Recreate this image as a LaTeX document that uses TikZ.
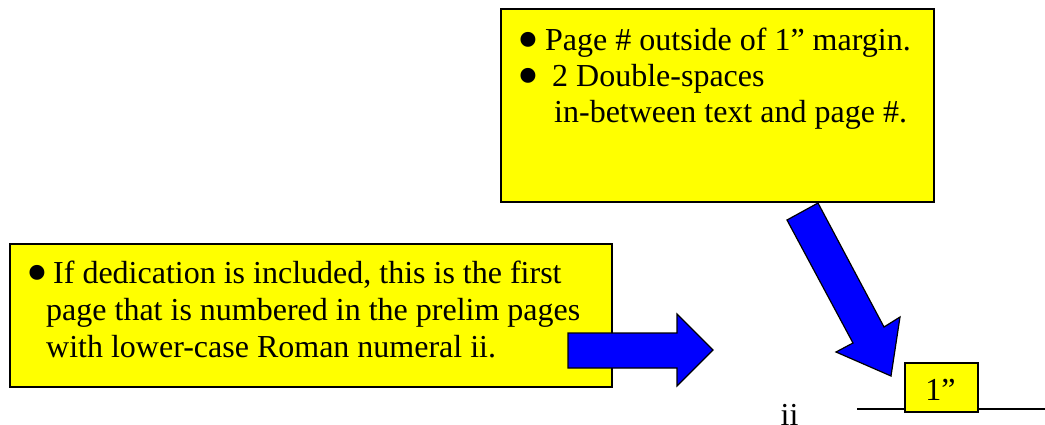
\documentclass[tikz,border=0pt]{standalone}
\usepackage{fontspec}
\setmainfont{Liberation Serif}
\definecolor{noteyellow}{RGB}{255,255,0}
\definecolor{arrowblue}{RGB}{0,0,255}
\newcommand\bulletmark{\makebox[0pt]{\smash{\raisebox{-10.5pt}{\scalebox{1.95}{•}}}}}
\begin{document}
\begin{tikzpicture}[x=1pt,y=-1pt,
  box/.style={draw=black, line width=1.6pt, fill=noteyellow, inner sep=0pt, anchor=north west},
  blockarrow/.style={draw=black, line width=1.2pt, fill=arrowblue, line join=miter},
  txt/.style={inner sep=0pt, anchor=base west, font=\fontsize{32}{36}\selectfont}]
\useasboundingbox (0,0) rectangle (1045,424);
% top note
\node[box, minimum width=433pt, minimum height=193pt] (topbox) at (500,8) {};
\node[txt] (tl1) at (528,50) {\bulletmark\hspace{17pt}Page \# outside of 1” margin.};
\node[txt] (tl2) at (528,86) {\bulletmark\hspace{24pt}2 Double-spaces};
\node[txt] (tl3) at (554,122) {in-between text and page \#.};
% left note
\node[box, minimum width=602pt, minimum height=143pt] (leftbox) at (9,243) {};
\node[txt] (ll1) at (37,283) {\bulletmark\hspace{16pt}If dedication is included, this is the first};
\node[txt] (ll2) at (46,320) {page that is numbered in the prelim pages};
\node[txt] (ll3) at (46,357) {with lower-case Roman numeral ii.};
% right block arrow
\draw[blockarrow] (568,333) -- (677,333) -- (677,314) -- (713,350) -- (677,386) -- (677,368) -- (568,368) -- cycle;
% diagonal block arrow
\draw[blockarrow] (787,220) -- (818,203) -- (884,327) -- (900,317) -- (891,376) -- (836,352) -- (853,343) -- cycle;
% margin line and 1" box
\coordinate (lineL) at (857,409);
\coordinate (lineR) at (1045,409);
\draw[line width=1.6pt] (lineL) -- (lineR);
\node[box, minimum width=73pt, minimum height=49pt] (inchbox) at (904,362) {};
\node[txt, anchor=base] (inch) at (940.5,400) {1”};
% page number
\node[txt, anchor=base] (pgnum) at (789.5,425) {ii};
\end{tikzpicture}
\end{document}
